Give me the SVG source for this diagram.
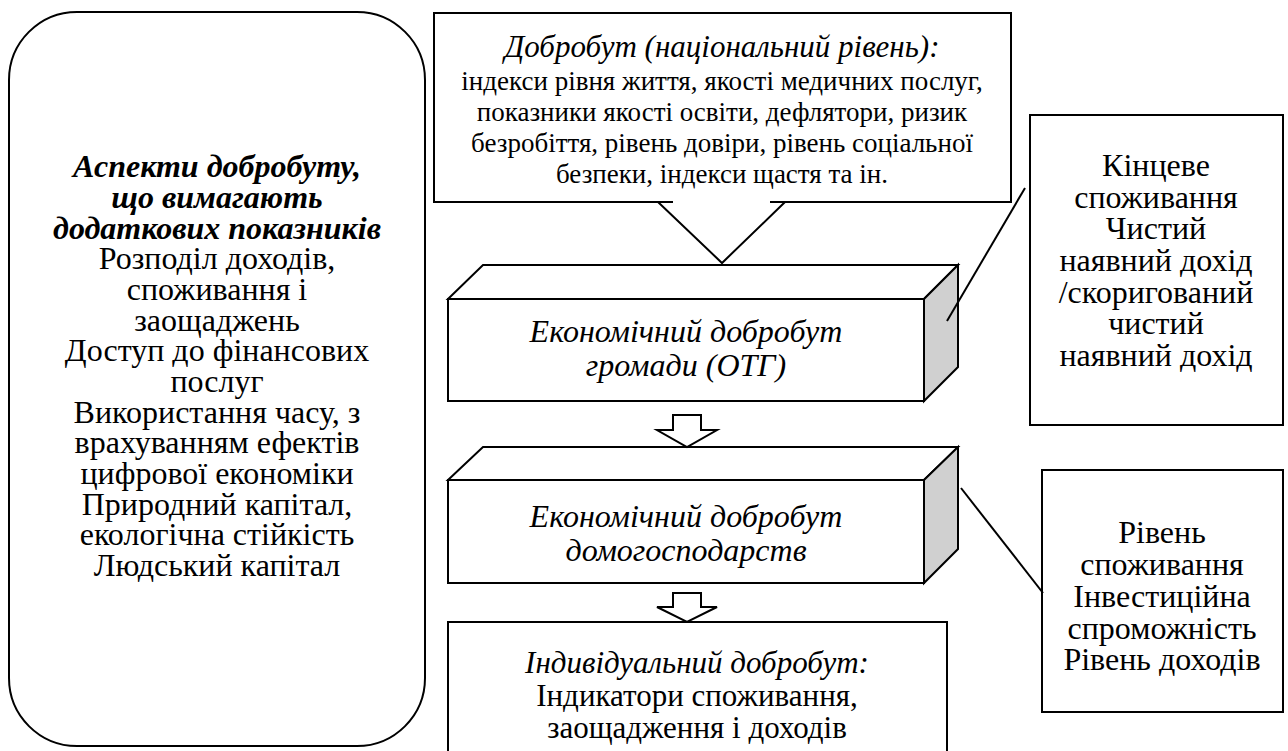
<svg xmlns="http://www.w3.org/2000/svg" width="1288" height="751" viewBox="0 0 1288 751">
<style>
.s{fill:#fff;stroke:#000;stroke-width:2}
.g{fill:#d0d0d0;stroke:#000;stroke-width:2;stroke-linejoin:miter}
.ln{fill:none;stroke:#000;stroke-width:2}
text{font-family:"Liberation Serif","Times New Roman",serif;fill:#000;text-anchor:middle}
.t{font-size:32px}
.i{font-size:32px;font-style:italic}
.bi{font-size:32px;font-style:italic;font-weight:bold}
.ti{font-size:31px;font-style:italic}
.sm{font-size:27px}
.m{font-size:31px}
</style>
<rect width="1288" height="751" fill="#fff"/>
<g id="aspects">
<rect class="s" x="9" y="12" width="416" height="734" rx="68" ry="68"/>
<text class="bi" x="217" y="177">Аспекти добробуту,</text>
<text class="bi" x="217" y="208">що вимагають</text>
<text class="bi" x="217" y="239">додаткових показників</text>
<text class="t" x="217" y="269">Розподіл доходів,</text>
<text class="t" x="217" y="300">споживання і</text>
<text class="t" x="217" y="331">заощаджень</text>
<text class="t" x="217" y="361">Доступ до фінансових</text>
<text class="t" x="217" y="392">послуг</text>
<text class="t" x="217" y="423">Використання часу, з</text>
<text class="t" x="217" y="453">врахуванням ефектів</text>
<text class="t" x="217" y="484">цифрової економіки</text>
<text class="t" x="217" y="515">Природний капітал,</text>
<text class="t" x="217" y="545">екологічна стійкість</text>
<text class="t" x="217" y="576">Людський капітал</text>
</g>
<g id="national">
<path class="s" d="M673,202 H434 V13 H1011 V202 H770"/>
<path class="ln" d="M658,202 L722,263 L785,202"/>
<text class="ti" x="722" y="57">Добробут (національний рівень):</text>
<text class="sm" x="722" y="90">індекси рівня життя, якості медичних послуг,</text>
<text class="sm" x="722" y="121">показники якості освіти, дефлятори, ризик</text>
<text class="sm" x="722" y="152">безробіття, рівень довіри, рівень соціальної</text>
<text class="sm" x="722" y="183">безпеки, індекси щастя та ін.</text>
</g>
<g id="community">
<polygon class="s" points="448,299 483,265 958,265 924,299"/>
<polygon class="g" points="924,299 958,265 958,367 924,401"/>
<rect class="s" x="448" y="299" width="476" height="102"/>
<text class="i" x="686" y="342">Економічний добробут</text>
<text class="i" x="686" y="376">громади (ОТГ)</text>
</g>
<g id="households">
<polygon class="s" points="448,480 483,447 958,447 924,480"/>
<polygon class="g" points="924,480 958,447 958,549 924,583"/>
<rect class="s" x="448" y="480" width="476" height="103"/>
<text class="i" x="686" y="527">Економічний добробут</text>
<text class="i" x="686" y="561">домогосподарств</text>
</g>
<g id="individual">
<rect class="s" x="448" y="622" width="499" height="140"/>
<text class="ti" x="697" y="673">Індивідуальний добробут:</text>
<text class="m" x="697" y="706">Індикатори споживання,</text>
<text class="m" x="697" y="738">заощадження і доходів</text>
</g>
<g id="final-consumption">
<rect class="s" x="1030" y="115" width="253" height="310"/>
<text class="t" x="1156" y="176">Кінцеве</text>
<text class="t" x="1156" y="208">споживання</text>
<text class="t" x="1156" y="239">Чистий</text>
<text class="t" x="1156" y="271">наявний дохід</text>
<text class="t" x="1156" y="303">/скоригований</text>
<text class="t" x="1156" y="334">чистий</text>
<text class="t" x="1156" y="366">наявний дохід</text>
</g>
<g id="household-indicators">
<rect class="s" x="1042" y="470" width="241" height="242"/>
<text class="t" x="1162" y="543">Рівень</text>
<text class="t" x="1162" y="575">споживання</text>
<text class="t" x="1162" y="607">Інвестиційна</text>
<text class="t" x="1162" y="639">спроможність</text>
<text class="t" x="1162" y="670">Рівень доходів</text>
</g>
<g id="connectors">
<polygon class="s" points="673,415 701,415 701,430 717,430 687,447 657,430 673,430"/>
<polygon class="s" points="673,593 701,593 701,607 717,607 687,622 657,607 673,607"/>
<line class="ln" x1="1025" y1="188" x2="947" y2="321"/>
<line class="ln" x1="961" y1="488" x2="1043" y2="593"/>
</g>
</svg>
